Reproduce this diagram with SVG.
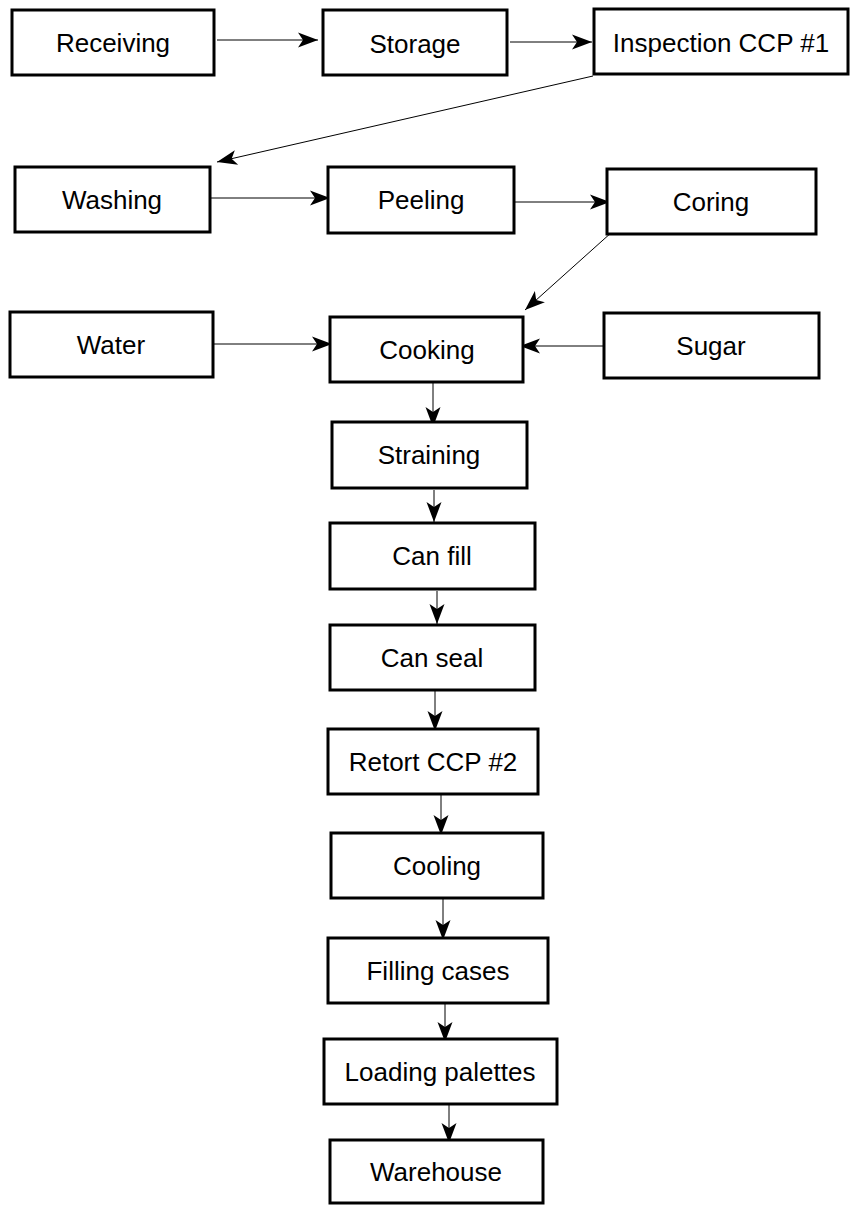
<svg xmlns="http://www.w3.org/2000/svg" width="850" height="1205" viewBox="0 0 850 1205">
<defs>
<style>
.box{fill:#fff;stroke:#000;stroke-width:3}
.lbl{font-family:"Liberation Sans",Arial,sans-serif;font-size:26px;fill:#000;text-anchor:middle}
.con{stroke:#000;stroke-width:1;fill:none;marker-end:url(#ah)}
</style>
<marker id="ah" markerUnits="userSpaceOnUse" markerWidth="26" markerHeight="20" viewBox="-22 -10 26 20" refX="0" refY="0" orient="auto">
<path d="M-20,-7.5 L0,0 L-20,7.5 L-15,0 Z" fill="#000"/>
</marker>
</defs>
<rect width="850" height="1205" fill="#fff"/>
<g id="connectors">
<path class="con" d="M217,40 L318,40"/>
<path class="con" d="M510,42 L592,42"/>
<path class="con" d="M593,76 L217,162"/>
<path class="con" d="M204,198 L330,198"/>
<path class="con" d="M512,202 L610,202"/>
<path class="con" d="M612,232 L525,310"/>
<path class="con" d="M210,344 L332,344"/>
<path class="con" d="M604,346 L520,346"/>
<path class="con" d="M433,383 L433,427"/>
<path class="con" d="M434,490 L434,522"/>
<path class="con" d="M437,591 L437,624"/>
<path class="con" d="M435,690 L435,731"/>
<path class="con" d="M441,795 L441,835"/>
<path class="con" d="M443,898 L443,940"/>
<path class="con" d="M445,1004 L445,1042"/>
<path class="con" d="M449,1105 L449,1143"/>
</g>
<g id="receiving"><rect class="box" x="12" y="10" width="202" height="65"/><text class="lbl" x="113" y="52">Receiving</text></g>
<g id="storage"><rect class="box" x="323" y="10" width="184" height="65"/><text class="lbl" x="415" y="53">Storage</text></g>
<g id="inspection"><rect class="box" x="594" y="9" width="254" height="65"/><text class="lbl" x="721" y="52">Inspection CCP #1</text></g>
<g id="washing"><rect class="box" x="15" y="167" width="195" height="65"/><text class="lbl" x="112" y="209">Washing</text></g>
<g id="peeling"><rect class="box" x="328" y="167" width="186" height="66"/><text class="lbl" x="421" y="209">Peeling</text></g>
<g id="coring"><rect class="box" x="607" y="169" width="209" height="65"/><text class="lbl" x="711" y="211">Coring</text></g>
<g id="water"><rect class="box" x="10" y="312" width="203" height="65"/><text class="lbl" x="111" y="354">Water</text></g>
<g id="cooking"><rect class="box" x="330" y="317" width="193" height="65"/><text class="lbl" x="427" y="359">Cooking</text></g>
<g id="sugar"><rect class="box" x="604" y="313" width="215" height="65"/><text class="lbl" x="711" y="355">Sugar</text></g>
<g id="straining"><rect class="box" x="332" y="422" width="195" height="66"/><text class="lbl" x="429" y="464">Straining</text></g>
<g id="canfill"><rect class="box" x="330" y="523" width="205" height="66"/><text class="lbl" x="432" y="565">Can fill</text></g>
<g id="canseal"><rect class="box" x="330" y="625" width="205" height="65"/><text class="lbl" x="432" y="667">Can seal</text></g>
<g id="retort"><rect class="box" x="328" y="729" width="210" height="65"/><text class="lbl" x="433" y="771">Retort CCP #2</text></g>
<g id="cooling"><rect class="box" x="331" y="833" width="212" height="65"/><text class="lbl" x="437" y="875">Cooling</text></g>
<g id="fillingcases"><rect class="box" x="328" y="938" width="220" height="65"/><text class="lbl" x="438" y="980">Filling cases</text></g>
<g id="loadingpalettes"><rect class="box" x="324" y="1039" width="233" height="65"/><text class="lbl" x="440" y="1081">Loading palettes</text></g>
<g id="warehouse"><rect class="box" x="330" y="1140" width="213" height="63"/><text class="lbl" x="436" y="1181">Warehouse</text></g>
</svg>
